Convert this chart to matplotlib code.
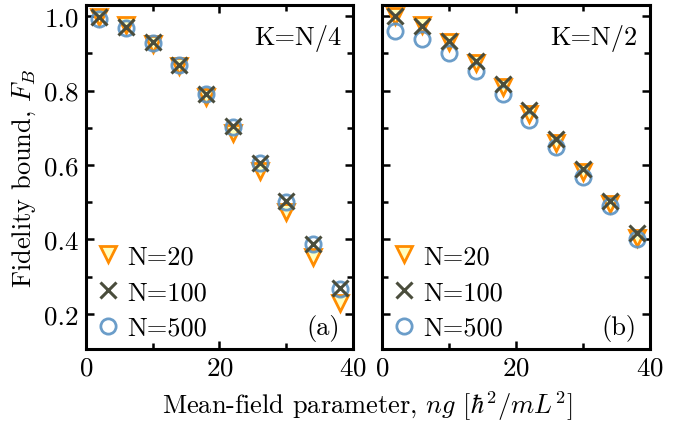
import matplotlib
matplotlib.use('Agg')
import matplotlib.pyplot as plt
from matplotlib.ticker import MultipleLocator

plt.rcParams['font.family'] = 'serif'
plt.rcParams['font.serif'] = ['cmr10', 'DejaVu Serif']
plt.rcParams['mathtext.fontset'] = 'cm'
plt.rcParams['axes.formatter.use_mathtext'] = True
plt.rcParams['font.size'] = 19

ng = [2, 6, 10, 14, 18, 22, 26, 30, 34, 38]

# panel (a): K = N/4
a_n20 = [0.997, 0.975, 0.925, 0.865, 0.783, 0.687, 0.584, 0.473, 0.352, 0.228]
a_n100 = [0.997, 0.971, 0.930, 0.868, 0.790, 0.704, 0.606, 0.502, 0.388, 0.268]
a_n500 = [0.993, 0.969, 0.929, 0.868, 0.790, 0.703, 0.605, 0.501, 0.388, 0.267]

# panel (b): K = N/2
b_n20 = [1.000, 0.975, 0.930, 0.873, 0.810, 0.738, 0.660, 0.580, 0.495, 0.405]
b_n100 = [1.000, 0.973, 0.933, 0.879, 0.817, 0.747, 0.669, 0.589, 0.504, 0.417]
b_n500 = [0.960, 0.938, 0.902, 0.853, 0.792, 0.721, 0.647, 0.567, 0.491, 0.401]

labels = ['N=20', 'N=100', 'N=500']
tags = ['K=N/4', 'K=N/2']
letters = ['(a)', '(b)']

orange = '#ff8c00'
yellow = '#ffffc0'
blue = '#5b93c4'
olive = '#4a4d3c'

fig = plt.figure(figsize=(6.87, 4.27), dpi=100)
ax1 = fig.add_axes([0.125, 0.180, 0.389, 0.806])
ax2 = fig.add_axes([0.556, 0.180, 0.390, 0.806], sharey=ax1)

for ax, d20, d100, d500, tag, let in [(ax1, a_n20, a_n100, a_n500, tags[0], letters[0]),
                                      (ax2, b_n20, b_n100, b_n500, tags[1], letters[1])]:
    ax.plot(ng, d20, 'v', ms=11, mfc=yellow, mec=orange, mew=2, ls='none', label=labels[0], zorder=3)
    ax.plot(ng, d100, 'x', ms=11, mec=olive, mew=2.2, ls='none', label=labels[1], zorder=5)
    ax.plot(ng, d500, 'o', ms=11, mfc='none', mec=blue, mew=2, ls='none', label=labels[2], alpha=0.9, zorder=4)
    ax.set_xlim(0, 40)
    ax.set_ylim(0.105, 1.03)
    ax.xaxis.set_major_locator(MultipleLocator(20))
    ax.xaxis.set_minor_locator(MultipleLocator(10))
    ax.yaxis.set_major_locator(MultipleLocator(0.2))
    ax.yaxis.set_minor_locator(MultipleLocator(0.1))
    ax.tick_params(which='both', direction='in', top=True, right=True, width=1.8, labelsize=19.5)
    ax.tick_params(which='major', length=6, pad=5)
    ax.tick_params(which='minor', length=4)
    for s in ax.spines.values():
        s.set_linewidth(2.2)
    ax.text(0.955, 0.945, tag, transform=ax.transAxes, ha='right', va='top', fontsize=19)
    ax.text(0.95, 0.025, let, transform=ax.transAxes, ha='right', va='bottom', fontsize=19)
    ax.legend(loc='lower left', frameon=False, handletextpad=0.2, borderaxespad=0.05,
              handlelength=1.0, labelspacing=0.45, borderpad=0.3, fontsize=19)

ax1.set_yticks([0.2, 0.4, 0.6, 0.8, 1.0])
ax1.set_yticklabels(['0.2', '0.4', '0.6', '0.8', '1.0'])
plt.setp(ax2.get_yticklabels(), visible=False)
ax1.set_ylabel('Fidelity bound, $F_B$', fontsize=19)
ax1.yaxis.set_label_coords(-0.18, 0.5)
fig.text(0.534, 0.01, r'Mean-field parameter, $ng$ $[\hbar^2/mL^2]$', ha='center', va='bottom', fontsize=19)

fig.savefig('out.png', dpi=100)
plt.close()
